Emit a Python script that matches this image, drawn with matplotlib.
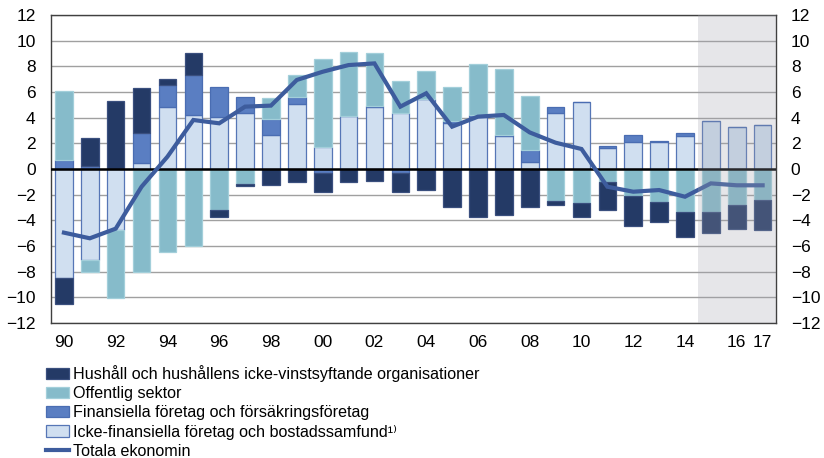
import matplotlib
matplotlib.use("Agg")
import matplotlib.pyplot as plt
import numpy as np

plt.rcParams['font.family'] = ['Liberation Sans', 'DejaVu Sans']

years = list(range(1990, 2018))
tick_years = [1990, 1992, 1994, 1996, 1998, 2000, 2002, 2004, 2006, 2008, 2010, 2012, 2014, 2016, 2017]

# Icke-finansiella företag och bostadssamfund
icke_fin = [-8.52, -7.09, -4.75, 0.44, 4.81, 4.23, 4.08, 4.34, 2.68, 5.04,
            1.74, 4.13, 4.81, 4.39, 5.43, 3.60, 4.08, 2.57, 0.57, 4.34,
            5.19, 1.66, 2.08, 2.10, 2.60, 3.77, 3.30, 3.40]
# Finansiella företag och försäkringsföretag
finans = [0.73, 0.20, 0.00, 2.34, 1.74, 3.09, 2.34, 1.25, 1.19, 0.57,
          -0.34, 0.00, 0.13, -0.34, 0.00, 0.15, 0.13, 0.05, 0.94, 0.52,
          0.00, 0.16, 0.55, 0.08, 0.18, 0.00, 0.00, 0.00]
# Offentlig sektor
offentlig = [5.35, -0.96, -5.33, -8.05, -6.49, -6.00, -3.19, -1.17, 1.64, 1.71,
             6.86, 5.01, 4.10, 2.49, 2.21, 2.65, 3.97, 5.14, 4.18, -2.52,
             -2.68, -1.01, -2.10, -2.55, -3.32, -3.35, -2.83, -2.42]
# Hushåll och hushållens icke-vinstsyftande organisationer
hushall = [-2.03, 2.24, 5.30, 3.51, 0.47, 1.74, -0.52, -0.13, -1.27, -1.01,
           -1.43, -1.04, -0.91, -1.48, -1.64, -2.99, -3.71, -3.58, -2.94, -0.29,
           -1.04, -2.18, -2.34, -1.58, -1.98, -1.61, -1.82, -2.34]
# Totala ekonomin
totala = [-4.96, -5.40, -4.65, -1.38, 0.96, 3.82, 3.56, 4.86, 4.94, 6.94,
          7.58, 8.10, 8.23, 4.86, 5.90, 3.30, 4.08, 4.21, 2.85, 2.05,
          1.56, -1.38, -1.77, -1.64, -2.16, -1.12, -1.27, -1.27]

series = [
    ("Icke-finansiella företag och bostadssamfund\u00b9\u207e", icke_fin, '#d0dff0', '#5676b6'),
    ("Finansiella företag och försäkringsföretag", finans, '#5a7ec2', '#4a6db2'),
    ("Offentlig sektor", offentlig, '#86bbca', '#a3cfda'),
    ("Hushåll och hushållens icke-vinstsyftande organisationer", hushall, '#243a66', '#3a4f7e'),
]

fig = plt.figure(figsize=(8.24, 4.58), dpi=100)
ax = fig.add_axes([0.0619, 0.2948, 0.8793, 0.6724])

x = np.arange(len(years))
pos_base = np.zeros(len(years))
neg_base = np.zeros(len(years))
handles = []
for label, vals, fc, ec in series:
    v = np.array(vals, dtype=float)
    bottoms = np.where(v >= 0, pos_base, neg_base)
    b = ax.bar(x, v, width=0.68, bottom=bottoms, color=fc, edgecolor=ec,
               linewidth=0.9, zorder=3, label=label)
    handles.append(b)
    pos_base = pos_base + np.where(v > 0, v, 0)
    neg_base = neg_base + np.where(v < 0, v, 0)

ln, = ax.plot(x, totala, color='#3d5c9d', linewidth=3, zorder=5,
              solid_joinstyle='miter', label='Totala ekonomin')

ax.axhline(0, color='black', linewidth=1.8, zorder=4)

# forecast shading
ax.axvspan(24.5, 27.5, color='#a0a2ac', alpha=0.26, zorder=6, linewidth=0)

ax.set_xlim(-0.5, 27.5)
ax.set_ylim(-12, 12)
ax.set_yticks(range(-12, 13, 2))
ax.yaxis.grid(True, color='#a0a0a0', linewidth=1.0, zorder=0)
ax.set_axisbelow(True)

ax.set_xticks([years.index(t) for t in tick_years])
ax.set_xticklabels([f"{t % 100:02d}" for t in tick_years])
ax.tick_params(axis='both', length=0, labelsize=12.5, colors='black')
ax.tick_params(axis='x', pad=9)
ax.tick_params(axis='y', pad=11)
ax.tick_params(axis='y', labelright=True, right=False)
for s in ax.spines.values():
    s.set_color('#404040')
    s.set_linewidth(1.0)

leg_handles = [handles[3], handles[2], handles[1], handles[0], ln]
leg_labels = [h.get_label() for h in leg_handles]
fig.legend(leg_handles, leg_labels, loc='upper left', bbox_to_anchor=(0.056, 0.203),
           frameon=False, fontsize=11.6, handlelength=1.4, handleheight=0.7,
           handletextpad=0.25, labelspacing=0.26, borderaxespad=0, borderpad=0)

fig.savefig('out.png', dpi=100)
